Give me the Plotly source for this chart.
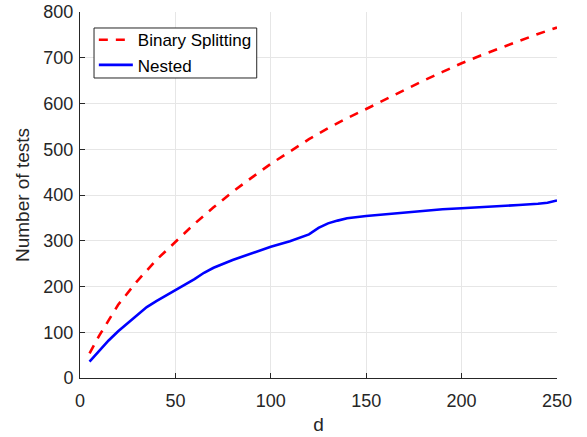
import plotly.graph_objects as go

d_binary = [5, 10, 20, 30, 40, 50, 60, 70, 80, 90, 100, 110, 120, 130, 140, 150,
            160, 170, 180, 190, 200, 210, 220, 230, 240, 250]
binary_tests = [54, 92, 160, 212, 258, 298, 337, 373, 407, 438, 468, 495, 522, 546,
                568, 588, 609, 630, 650, 669, 688, 705, 721, 737, 752, 766]

d_nested = [5, 10, 15, 20, 25, 30, 35, 40, 45, 50, 55, 60, 65, 70, 80, 90, 100, 110,
            120, 125, 130, 135, 140, 150, 160, 170, 180, 190, 200, 210, 220, 230,
            240, 245, 250]
nested_tests = [36, 60, 82, 102, 120, 138, 155, 168, 180, 191, 203, 216, 230, 241,
                258, 273, 287, 299, 314, 328, 338, 344, 349, 354, 358, 362, 366, 369,
                371, 373, 375, 378, 381, 383, 388]

x_ticks = [0, 50, 100, 150, 200, 250]
y_ticks = [0, 100, 200, 300, 400, 500, 600, 700, 800]

FONT = "Liberation Sans, Arial, sans-serif"

fig = go.Figure()
fig.add_trace(go.Scatter(x=d_binary, y=binary_tests, mode="lines",
                         name="Binary Splitting",
                         line=dict(color="#ff0000", width=2.6, dash="9px,8px")))
fig.add_trace(go.Scatter(x=d_nested, y=nested_tests, mode="lines", name="Nested",
                         line=dict(color="#0000ff", width=2.6)))

# legend frame (drawn as a paper-referenced box behind the legend entries)
fig.add_shape(type="rect", xref="paper", yref="paper",
              x0=0.0294, x1=0.3705, y0=0.8197, y1=0.9563,
              line=dict(color="#262626", width=1), fillcolor="white", layer="above")

fig.update_layout(
    width=587, height=437,
    margin=dict(l=80, r=30, t=12, b=59, autoexpand=False),
    paper_bgcolor="white", plot_bgcolor="white",
    font=dict(family=FONT, size=18, color="#262626"),
    showlegend=True,
    legend=dict(x=0.029, y=0.972, xanchor="left", yanchor="top",
                bgcolor="rgba(0,0,0,0)", borderwidth=0,
                font=dict(size=17, color="#000000"),
                tracegroupgap=0, itemwidth=34),
    xaxis=dict(range=[0, 250], tickvals=x_ticks, ticks="inside", ticklen=5,
               tickcolor="#262626", showline=True, linecolor="#262626",
               linewidth=1, showgrid=True, gridcolor="#e6e6e6", zeroline=False,
               automargin=False, ticklabelstandoff=6,
               title=dict(text="d", font=dict(size=19, color="#262626"), standoff=8)),
    yaxis=dict(range=[0, 800], tickvals=y_ticks, ticks="inside", ticklen=5,
               tickcolor="#262626", showline=True, linecolor="#262626",
               linewidth=1, showgrid=True, gridcolor="#e6e6e6", zeroline=False,
               automargin=False, ticklabelstandoff=2,
               title=dict(text="Number of tests", font=dict(size=19, color="#262626"),
                          standoff=8)),
)

fig.write_html("out.html", config={"displayModeBar": False},
               post_script="document.body.style.margin='0';"
                           "document.body.style.overflow='hidden';")
